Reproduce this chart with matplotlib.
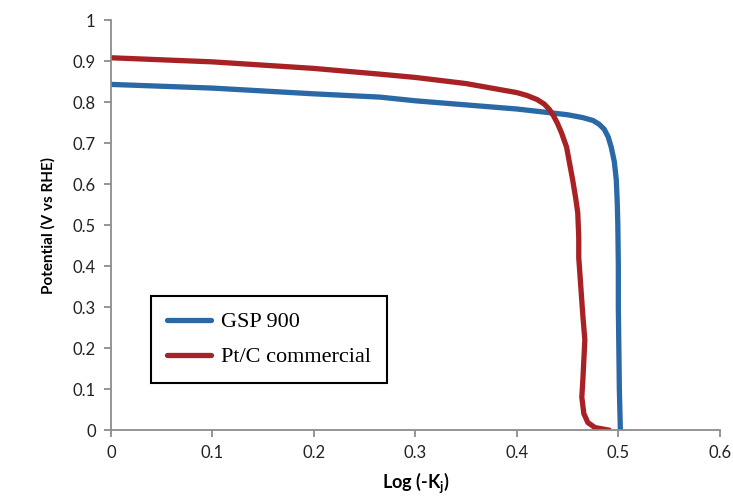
import numpy as np
import matplotlib
matplotlib.use('Agg')
from matplotlib import pyplot as plt

# data
gsp_x = [0, 0.1, 0.2, 0.265, 0.3, 0.4, 0.425, 0.45, 0.465, 0.475, 0.481, 0.486, 0.49,
         0.493, 0.496, 0.498, 0.499, 0.4995, 0.5, 0.5, 0.5005, 0.501, 0.502]
gsp_y = [0.843, 0.834, 0.82, 0.812, 0.803, 0.783, 0.776, 0.769, 0.762, 0.755, 0.746, 0.734, 0.715,
         0.69, 0.655, 0.61, 0.55, 0.5, 0.4, 0.3, 0.2, 0.1, 0.0]

ptc_x = [0, 0.1, 0.2, 0.265, 0.3, 0.35, 0.4, 0.41, 0.42, 0.427, 0.432, 0.436, 0.44, 0.444,
         0.449, 0.452, 0.455, 0.458, 0.46, 0.461, 0.461, 0.463, 0.465, 0.467, 0.466, 0.465,
         0.464, 0.466, 0.47, 0.477, 0.49]
ptc_y = [0.908, 0.898, 0.882, 0.868, 0.86, 0.845, 0.823, 0.816, 0.806, 0.795, 0.782, 0.767, 0.748, 0.725,
         0.69, 0.65, 0.61, 0.565, 0.53, 0.47, 0.42, 0.35, 0.28, 0.22, 0.17, 0.12,
         0.08, 0.04, 0.018, 0.006, 0.0]

labels = ['GSP 900', 'Pt/C commercial']
colors = ['#2B69A6', '#A82125']

xticks = np.arange(0, 0.61, 0.1)
yticks = np.arange(0, 1.01, 0.1)

fig = plt.figure(figsize=(7.33, 5.01), dpi=100)
ax = fig.add_axes([0.1514, 0.1417, 0.8306, 0.8183])

ax.plot(gsp_x, gsp_y, color=colors[0], lw=3.8, solid_joinstyle='round', label=labels[0])
ax.plot(ptc_x, ptc_y, color=colors[1], lw=3.8, solid_joinstyle='round', label=labels[1])

ax.set_xlim(0, 0.6)
ax.set_ylim(0, 1)
ax.set_xticks(xticks)
ax.set_yticks(yticks)
ax.set_xticklabels(['0'] + ['%.1f' % v for v in xticks[1:]])
ax.set_yticklabels(['0'] + ['%.1f' % v for v in yticks[1:-1]] + ['1'])

for s in ['top', 'right']:
    ax.spines[s].set_visible(False)
for s in ['left', 'bottom']:
    ax.spines[s].set_color('#8C8C8C')
    ax.spines[s].set_linewidth(1.3)
ax.tick_params(direction='out', length=5, width=1.3, color='#8C8C8C',
               labelsize=12, labelcolor='#222222', pad=6)
for t in ax.get_xticklabels() + ax.get_yticklabels():
    t.set_family('Lato')

ax.set_xlabel(r'Log (-K$_\mathregular{j}$)', family='Lato', fontweight='bold',
              fontsize=13, labelpad=6)
ax.set_ylabel('Potential (V vs RHE)', family='Lato', fontweight='bold',
              fontsize=11, labelpad=12)

leg = ax.legend(loc='lower left', bbox_to_anchor=(0.206, 0.2355),
                bbox_transform=fig.transFigure, borderaxespad=0,
                prop={'family': 'Liberation Serif', 'size': 16},
                fancybox=False, edgecolor='black', framealpha=1,
                handlelength=2.0, handletextpad=0.45, labelspacing=0.65,
                borderpad=0.7)
leg.get_frame().set_linewidth(1.5)
for h in leg.get_lines():
    h.set_solid_capstyle('round')

fig.savefig('out.png', dpi=100)
